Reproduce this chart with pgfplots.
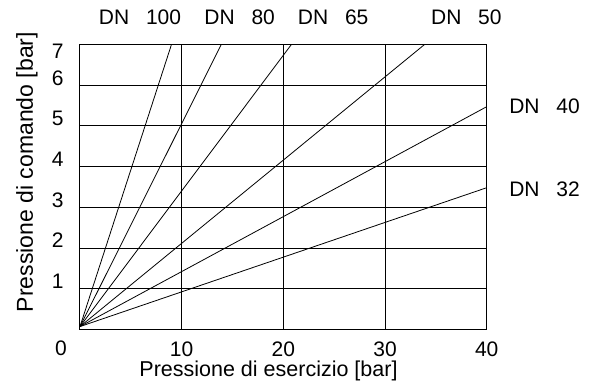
\documentclass[border=0pt]{standalone}
\usepackage{fontspec}
\setmainfont{Liberation Sans}
\usepackage{pgfplots}
\pgfplotsset{compat=1.18}
\newcommand{\lf}{\fontsize{21}{25}\selectfont}
\begin{document}
\begin{tikzpicture}
\useasboundingbox (-80pt,-59.6pt) rectangle (518pt,329.4pt);
\begin{axis}[
  at={(0,0)}, anchor=south west,
  scale only axis,
  width=406.7pt, height=285pt,
  xmin=0, xmax=40, ymin=0, ymax=7,
  xtick={10,20,30,40},
  ytick={1,2,3,4,5,6},
  extra y ticks={7},
  extra y tick style={yticklabel style={yshift=-14pt}},
  major tick length=0pt,
  xmajorgrids, ymajorgrids,
  grid style={black, line width=0.8pt},
  axis line style={black, line width=1pt},
  /pgf/number format/assume math mode=true,
  tick label style={font=\lf},
  xticklabel style={anchor=base, yshift=-27pt},
  yticklabel style={anchor=base east, xshift=-13pt},
  xlabel={Pressione di esercizio [bar]},
  ylabel={Pressione di comando [bar]},
  xlabel style={at={(axis description cs:0.4635,-0.167)}, anchor=base, font=\fontsize{21.5}{25}\selectfont},
  ylabel style={at={(axis description cs:-0.1156,0.552)}, anchor=base, font=\fontsize{23}{27}\selectfont},
  clip=false,
]
\addplot[black, line width=0.8pt] coordinates {(0,0.07) (9.0,7)};
\addplot[black, line width=0.8pt] coordinates {(0,0.07) (13.9,7)};
\addplot[black, line width=0.8pt] coordinates {(0,0.07) (20.8,7)};
\addplot[black, line width=0.8pt] coordinates {(0,0.07) (33.9,7)};
\addplot[black, line width=0.8pt] coordinates {(0,0.07) (40,5.47)};
\addplot[black, line width=0.8pt] coordinates {(0,0.07) (40,3.48)};
\node[anchor=base east, xshift=-13pt, yshift=-26pt, inner sep=0pt, font=\lf] at (axis cs:0,0) {0};
\node[anchor=base, inner sep=0pt, font=\lf] at (axis cs:5.9,7.48) {DN\hspace{0.8em}100};
\node[anchor=base, inner sep=0pt, font=\lf] at (axis cs:15.7,7.48) {DN\hspace{0.8em}80};
\node[anchor=base, inner sep=0pt, font=\lf] at (axis cs:24.9,7.48) {DN\hspace{0.8em}65};
\node[anchor=base, inner sep=0pt, font=\lf] at (axis cs:38.0,7.48) {DN\hspace{0.8em}50};
\node[anchor=base west, inner sep=0pt, font=\lf] at (axis cs:42.2,5.31) {DN\hspace{0.8em}40};
\node[anchor=base west, inner sep=0pt, font=\lf] at (axis cs:42.2,3.26) {DN\hspace{0.8em}32};
\end{axis}
\end{tikzpicture}
\end{document}
